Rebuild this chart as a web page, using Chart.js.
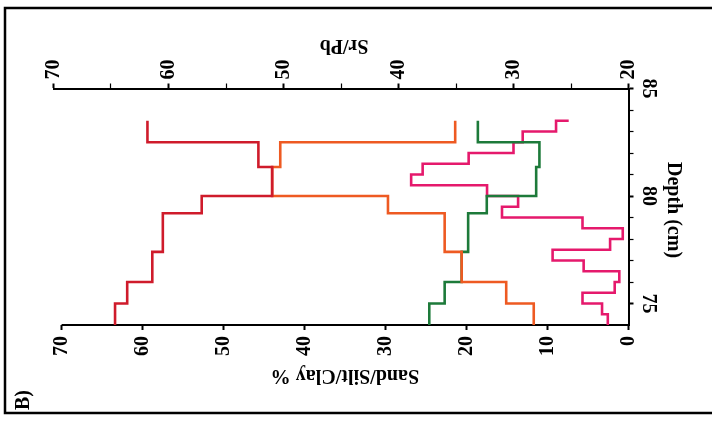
<!DOCTYPE html>
<html>
<head>
<meta charset="utf-8">
<script src="https://cdn.jsdelivr.net/npm/chart.js@4/dist/chart.umd.min.js"></script>
<style>
  html, body { margin: 0; padding: 0; background: #fff; }
  canvas { display: block; }
</style>
</head>
<body>
<canvas id="profile" width="712" height="423"></canvas>
<script>
// Grain-size profile: depth of each interval base (cm) and the percentage held over that interval
const grainDepths = [74, 75, 76, 77.4, 79.2, 80, 81.35, 82.5, 83.5];
const siltPct = [63.4, 61.9, 58.8, 57.5, 52.7, 44.0, 45.7, 59.4, 59.4];
const clayPct = [11.7, 15.1, 20.6, 22.7, 29.7, 44.0, 43.0, 21.4, 21.4];
const sandPct = [24.6, 22.7, 20.6, 19.8, 17.5, 11.4, 11.0, 18.6, 18.6];

// Sr/Pb ratio, 0.5 cm samples
const ratioDepths = [74, 74.5, 75, 75.5, 76, 76.5, 77, 77.5, 78, 78.5, 79, 79.5, 80, 80.5, 81, 81.5, 82, 82.5, 83, 83.5];
const srPbRatio = [21.8, 22.3, 24.0, 21.2, 20.8, 23.9, 26.6, 21.6, 20.5, 24.0, 31.0, 29.6, 32.3, 38.9, 37.9, 33.9, 30.0, 29.2, 26.3, 25.2];

// Axis tick labels
const pctTicks = [0, 10, 20, 30, 40, 50, 60, 70];
const ratioTicks = [20, 30, 40, 50, 60, 70];
const depthTicks = [75, 80, 85];

const toPoints = (depths, values) => depths.map((d, i) => ({ x: values[i], y: d }));

const serif = '"Liberation Serif", "Times New Roman", serif';

function drawRotated(ctx, text, x, y, angle, align, baseline) {
  ctx.save();
  ctx.translate(x, y);
  ctx.rotate(angle);
  ctx.textAlign = align;
  ctx.textBaseline = baseline;
  ctx.fillText(text, 0, 0);
  ctx.restore();
}

const annotate = {
  id: 'annotate',
  beforeDatasetsDraw(chart) {
    const { ctx, chartArea } = chart;
    const pct = chart.scales.pct;
    ctx.save();
    ctx.strokeStyle = '#000';
    ctx.lineWidth = 2;
    ctx.beginPath();
    ctx.moveTo(pct.getPixelForValue(70), chartArea.bottom);
    ctx.lineTo(pct.getPixelForValue(0) + 1, chartArea.bottom);
    ctx.stroke();
    ctx.restore();
  },
  afterDraw(chart) {
    const { ctx, chartArea } = chart;
    const { pct, ratio, depth } = chart.scales;
    ctx.save();
    ctx.fillStyle = '#000';

    // frame
    ctx.strokeStyle = '#000';
    ctx.lineWidth = 2.5;
    ctx.beginPath();
    ctx.moveTo(712, 8);
    ctx.lineTo(5, 8);
    ctx.lineTo(5, 413);
    ctx.lineTo(712, 413);
    ctx.stroke();

    ctx.font = 'bold 20px ' + serif;
    pctTicks.forEach(v => {
      drawRotated(ctx, String(v), pct.getPixelForValue(v), chartArea.bottom + 11, -Math.PI / 2, 'right', 'middle');
    });
    ratioTicks.forEach(v => {
      drawRotated(ctx, String(v), ratio.getPixelForValue(v), chartArea.top - 9, -Math.PI / 2, 'left', 'middle');
    });
    depthTicks.forEach(v => {
      drawRotated(ctx, String(v), chartArea.right + 20, depth.getPixelForValue(v), Math.PI / 2, 'center', 'middle');
    });

    drawRotated(ctx, 'Sr/Pb', 344, 45, Math.PI, 'center', 'middle');
    drawRotated(ctx, 'Sand/Silt/Clay %', 345, 375, Math.PI, 'center', 'middle');
    drawRotated(ctx, 'Depth (cm)', 673, 210, Math.PI / 2, 'center', 'middle');
    drawRotated(ctx, 'B)', 24, 400, -Math.PI / 2, 'center', 'middle');
    ctx.restore();
  }
};

const stepLine = (label, color, data, xAxisID) => ({
  label, data, xAxisID, yAxisID: 'depth',
  showLine: true, stepped: 'after',
  borderColor: color, backgroundColor: color,
  borderWidth: 2.6, pointRadius: 0, fill: false
});

new Chart(document.getElementById('profile'), {
  type: 'scatter',
  data: {
    datasets: [
      stepLine('Silt', '#cf1b2b', toPoints(grainDepths, siltPct), 'pct'),
      stepLine('Clay', '#ee5a22', toPoints(grainDepths, clayPct), 'pct'),
      stepLine('Sand', '#1d7a3a', toPoints(grainDepths, sandPct), 'pct'),
      stepLine('Sr/Pb', '#e5196c', toPoints(ratioDepths, srPbRatio), 'ratio')
    ]
  },
  options: {
    responsive: false,
    animation: false,
    layout: { padding: { left: 53.5, right: 78.5, top: 83.5, bottom: 93 } },
    plugins: { legend: { display: false }, tooltip: { enabled: false } },
    scales: {
      pct: {
        type: 'linear', axis: 'x', position: 'bottom', reverse: true, min: 0, max: 71,
        afterBuildTicks: s => { s.ticks = pctTicks.map(v => ({ value: v })); },
        ticks: { display: false },
        grid: { drawOnChartArea: false, drawTicks: true, tickLength: 5, tickColor: '#000', tickWidth: 2 },
        border: { display: false }
      },
      ratio: {
        type: 'linear', axis: 'x', position: 'top', reverse: true, min: 20, max: 70,
        afterBuildTicks: s => {
          const t = [];
          for (let v = 20; v <= 70; v += 5) t.push({ value: v });
          s.ticks = t;
        },
        ticks: { display: false },
        grid: {
          drawOnChartArea: false, drawTicks: true, tickLength: 5, tickColor: '#000',
          tickWidth: c => (c.tick && c.tick.value % 10 === 0 ? 2 : 1.2)
        },
        border: { display: true, color: '#000', width: 2 }
      },
      depth: {
        type: 'linear', axis: 'y', position: 'right', min: 74, max: 85,
        afterBuildTicks: s => {
          const t = [];
          for (let v = 75; v <= 85; v += 1) t.push({ value: v });
          s.ticks = t;
        },
        ticks: { display: false },
        grid: {
          drawOnChartArea: false, drawTicks: true, tickLength: 5, tickColor: '#000',
          tickWidth: c => (c.tick && c.tick.value % 5 === 0 ? 2 : 1.2)
        },
        border: { display: true, color: '#000', width: 2 }
      }
    }
  },
  plugins: [annotate]
});
</script>
</body>
</html>
